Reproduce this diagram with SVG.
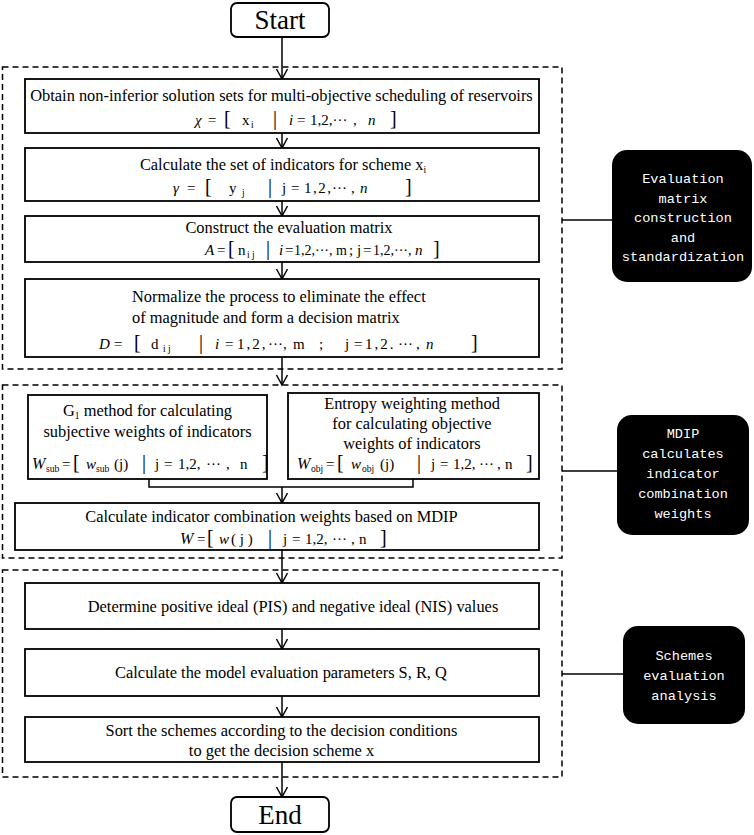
<svg xmlns="http://www.w3.org/2000/svg" width="754" height="835" viewBox="0 0 754 835">
<style>
.t{font-family:"Liberation Serif","Times New Roman",serif;font-size:16.4px;fill:#000}
.f{font-family:"Liberation Serif","Times New Roman",serif;font-size:15px;fill:#000}
.f3{font-size:14px}
.mid{text-anchor:middle}
.it{font-style:italic}
.sb{font-size:9.5px}
.br{font-size:20px}
.se{font-family:"Liberation Serif","Times New Roman",serif;font-size:27px;fill:#000;text-anchor:middle}
.box{fill:#fff;stroke:#000;stroke-width:1.8}
.dash{fill:none;stroke:#000;stroke-width:1.5;stroke-dasharray:6 4}
.lab{fill:#000}
.lt{font-family:"Liberation Mono","DejaVu Sans Mono",monospace;font-size:13.6px;fill:#fff;text-anchor:middle}
.cn{stroke:#000;stroke-width:1.5;fill:none}
.ar{stroke:#000;stroke-width:1.5;fill:none;marker-end:url(#ah)}
</style>
<defs>
<marker id="ah" markerUnits="userSpaceOnUse" markerWidth="12" markerHeight="12" refX="10" refY="6" orient="auto" overflow="visible">
<path d="M0,0.5 L10,6 L0,11.5" fill="none" stroke="#000" stroke-width="1.5"/>
</marker>
</defs>

<g id="groups">
<rect class="dash" x="2.5" y="67" width="559.5" height="302"/>
<rect class="dash" x="2.5" y="385" width="559.5" height="173"/>
<rect class="dash" x="2.5" y="570" width="559.5" height="207"/>
</g>

<g id="connectors">
<line class="ar" x1="282" y1="37" x2="282" y2="79"/>
<line class="ar" x1="282" y1="133" x2="282" y2="148"/>
<line class="ar" x1="282" y1="201" x2="282" y2="216"/>
<line class="ar" x1="282" y1="262" x2="282" y2="279"/>
<line class="ar" x1="282" y1="357" x2="282" y2="385"/>
<polyline class="cn" points="149,479 149,487 413,487 413,479"/>
<line class="ar" x1="282" y1="487" x2="282" y2="503"/>
<line class="ar" x1="282" y1="550" x2="282" y2="583"/>
<line class="ar" x1="282" y1="629" x2="282" y2="649"/>
<line class="ar" x1="282" y1="696" x2="282" y2="717"/>
<line class="ar" x1="282" y1="762" x2="282" y2="797"/>
<line class="cn" x1="562" y1="220" x2="612" y2="220"/>
<line class="cn" x1="562" y1="471" x2="617" y2="471"/>
<line class="cn" x1="562" y1="674" x2="623" y2="674"/>
</g>

<g id="start">
<rect class="box" x="231" y="3" width="98" height="34" rx="6"/>
<text class="se" x="280" y="29">Start</text>
</g>

<g id="n1">
<rect class="box" x="25" y="79" width="514" height="54"/>
<text class="t mid" x="281.5" y="101">Obtain non-inferior solution sets for multi-objective scheduling of reservoirs</text>
<text class="f" y="125"><tspan x="195" class="it">χ</tspan><tspan x="208">=</tspan><tspan x="224" class="br">[</tspan><tspan x="242">x</tspan><tspan x="251" y="128" class="sb">i</tspan><tspan x="273" y="125" class="br">|</tspan><tspan x="289" class="it">i</tspan><tspan x="297">=</tspan><tspan x="310">1,2,···</tspan><tspan x="353">,</tspan><tspan x="368" class="it">n</tspan><tspan x="390" class="br">]</tspan></text>
</g>

<g id="n2">
<rect class="box" x="25" y="148" width="514" height="53"/>
<text class="t mid" x="283" y="170">Calculate the set of indicators for scheme x<tspan class="sb" dy="3">i</tspan></text>
<text class="f" y="193"><tspan x="173" class="it">γ</tspan><tspan x="187">=</tspan><tspan x="205" class="br">[</tspan><tspan x="229">y</tspan><tspan x="242" y="196" class="sb">j</tspan><tspan x="268" y="193" class="br">|</tspan><tspan x="282">j</tspan><tspan x="291">=</tspan><tspan x="304" letter-spacing="1.5">1,2,</tspan><tspan x="332">···</tspan><tspan x="351">,</tspan><tspan x="360" class="it">n</tspan><tspan x="405" class="br">]</tspan></text>
</g>

<g id="n3">
<rect class="box" x="25" y="216" width="514" height="46"/>
<text class="t mid" x="289" y="233">Construct the evaluation matrix</text>
<text class="f" y="255"><tspan x="205" class="it">A</tspan><tspan x="217">=</tspan><tspan x="228" class="br">[</tspan><tspan x="238">n</tspan><tspan x="247" y="258" class="sb">i j</tspan><tspan x="266" y="255" class="br">|</tspan><tspan x="279" class="it">i</tspan><tspan x="285">=</tspan><tspan x="294" class="f3">1,2,···,</tspan><tspan x="336" class="f3">m</tspan><tspan x="349">;</tspan><tspan x="357">j</tspan><tspan x="363">=</tspan><tspan x="373" class="f3">1,2,···,</tspan><tspan x="415" class="it">n</tspan><tspan x="433" class="br">]</tspan></text>
</g>

<g id="n4">
<rect class="box" x="25" y="279" width="514" height="78"/>
<text class="t" x="132" y="302">Normalize the process to eliminate the effect</text>
<text class="t" x="132" y="323">of magnitude and form a decision matrix</text>
<text class="f" y="349"><tspan x="99" class="it">D</tspan><tspan x="114">=</tspan><tspan x="134" class="br">[</tspan><tspan x="151">d</tspan><tspan x="163" y="352" class="sb">i  j</tspan><tspan x="199" y="349" class="br">|</tspan><tspan x="215" class="it">i</tspan><tspan x="225">=</tspan><tspan x="237" letter-spacing="2">1,2,</tspan><tspan x="268">···</tspan><tspan x="283">,</tspan><tspan x="293">m</tspan><tspan x="319">;</tspan><tspan x="345">j</tspan><tspan x="354">=</tspan><tspan x="365" letter-spacing="2">1,2.</tspan><tspan x="398">···</tspan><tspan x="416">,</tspan><tspan x="426" class="it">n</tspan><tspan x="471" class="br">]</tspan></text>
</g>

<g id="n5">
<rect class="box" x="28" y="395" width="239" height="84"/>
<text class="t mid" x="147.5" y="416">G<tspan class="sb" dy="3">1</tspan><tspan dy="-3"> method for calculating</tspan></text>
<text class="t mid" x="147.5" y="437">subjective weights of indicators</text>
<text class="f" y="469"><tspan x="32" class="it" font-size="16">W</tspan><tspan x="46" y="472" class="sb">sub</tspan><tspan x="62" y="469">=</tspan><tspan x="73" class="br">[</tspan><tspan x="86" class="it">w</tspan><tspan x="96" y="472" class="sb">sub</tspan><tspan x="114" y="469">(j)</tspan><tspan x="142" class="br">|</tspan><tspan x="155">j</tspan><tspan x="164">=</tspan><tspan x="178">1,2,</tspan><tspan x="206">···</tspan><tspan x="226">,</tspan><tspan x="240">n</tspan><tspan x="262" class="br">]</tspan></text>
</g>

<g id="n6">
<rect class="box" x="288" y="393" width="251" height="86"/>
<text class="t mid" x="412" y="409">Entropy weighting method</text>
<text class="t mid" x="412" y="429">for calculating objective</text>
<text class="t mid" x="412" y="449">weights of indicators</text>
<text class="f" y="469"><tspan x="297" class="it" font-size="16">W</tspan><tspan x="311" y="472" class="sb">obj</tspan><tspan x="326" y="469">=</tspan><tspan x="337" class="br">[</tspan><tspan x="351" class="it">w</tspan><tspan x="362" y="472" class="sb">obj</tspan><tspan x="380" y="469">(j)</tspan><tspan x="417" class="br">|</tspan><tspan x="431">j</tspan><tspan x="440">=</tspan><tspan x="453">1,2,</tspan><tspan x="479">···</tspan><tspan x="497">,</tspan><tspan x="505">n</tspan><tspan x="526" class="br">]</tspan></text>
</g>

<g id="n7">
<rect class="box" x="15" y="503" width="524" height="47"/>
<text class="t mid" x="271.5" y="522">Calculate indicator combination weights based on MDIP</text>
<text class="f" y="544"><tspan x="180" class="it" font-size="16">W</tspan><tspan x="197">=</tspan><tspan x="207" class="br">[</tspan><tspan x="219" class="it">w</tspan><tspan x="231">( j )</tspan><tspan x="268" class="br">|</tspan><tspan x="283">j</tspan><tspan x="292">=</tspan><tspan x="305">1,2,</tspan><tspan x="332">···</tspan><tspan x="351">,</tspan><tspan x="359">n</tspan><tspan x="380" class="br">]</tspan></text>
</g>

<g id="n8">
<rect class="box" x="25" y="583" width="514" height="46"/>
<text class="t mid" x="293" y="612">Determine positive ideal (PIS) and negative ideal (NIS) values</text>
</g>

<g id="n9">
<rect class="box" x="25" y="649" width="514" height="47"/>
<text class="t mid" x="281" y="678">Calculate the model evaluation parameters S, R, Q</text>
</g>

<g id="n10">
<rect class="box" x="25" y="717" width="514" height="45"/>
<text class="t mid" x="281.5" y="736">Sort the schemes according to the decision conditions</text>
<text class="t mid" x="281.5" y="756">to get the decision scheme x</text>
</g>

<g id="end">
<rect class="box" x="231" y="797" width="98" height="35" rx="6"/>
<text class="se" x="280" y="824">End</text>
</g>

<g id="label1">
<rect class="lab" x="612" y="150" width="140" height="132" rx="15"/>
<text class="lt" x="683" y="183">Evaluation</text>
<text class="lt" x="683" y="202.5">matrix</text>
<text class="lt" x="683" y="222">construction</text>
<text class="lt" x="683" y="241.5">and</text>
<text class="lt" x="683" y="261">standardization</text>
</g>

<g id="label2">
<rect class="lab" x="617" y="415" width="132" height="120" rx="15"/>
<text class="lt" x="683" y="438">MDIP</text>
<text class="lt" x="683" y="458">calculates</text>
<text class="lt" x="683" y="478">indicator</text>
<text class="lt" x="683" y="498">combination</text>
<text class="lt" x="683" y="518">weights</text>
</g>

<g id="label3">
<rect class="lab" x="623" y="626" width="122" height="98" rx="15"/>
<text class="lt" x="684" y="660">Schemes</text>
<text class="lt" x="684" y="680">evaluation</text>
<text class="lt" x="684" y="700">analysis</text>
</g>
</svg>
